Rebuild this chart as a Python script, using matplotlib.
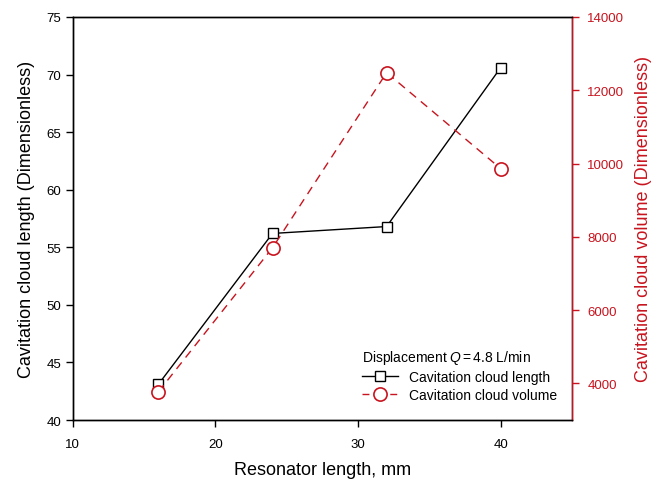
import matplotlib
matplotlib.use("Agg")
import matplotlib.pyplot as plt
from matplotlib.lines import Line2D

# ── data ──────────────────────────────────────────────────────────────────────
resonator_len = [16, 24, 32, 40]          # mm
cloud_length  = [43.1, 56.2, 56.8, 70.6]  # dimensionless
cloud_volume  = [3770, 7700, 12480, 9860] # dimensionless

RED = "#C8141E"

plt.rcParams.update({
    "font.family": ["Liberation Sans", "DejaVu Sans"],
    "mathtext.fontset": "custom",
    "mathtext.it": "Liberation Sans:italic",
    "mathtext.rm": "Liberation Sans",
})

fig = plt.figure(figsize=(6.56, 4.81), dpi=100)
ax = fig.add_axes([0.111, 0.1247, 0.761, 0.838])
ax2 = ax.twinx()

ax.plot(resonator_len, cloud_length, "-", color="black", linewidth=1.0,
        marker="s", markersize=7.5, markerfacecolor="white",
        markeredgecolor="black", markeredgewidth=1.0, zorder=3)
ax2.plot(resonator_len, cloud_volume, "--", color=RED, linewidth=1.0,
         dashes=(6, 4.5), marker="o", markersize=9.5, markerfacecolor="white",
         markeredgecolor=RED, markeredgewidth=1.2, zorder=3)

# ── axes ──────────────────────────────────────────────────────────────────────
ax.set_xlim(10, 45)
ax.set_xticks([10, 20, 30, 40])
ax.set_ylim(40, 75)
ax.set_yticks(range(40, 76, 5))
ax2.set_ylim(3000, 14000)
ax2.set_yticks(range(4000, 14001, 2000))

ax.set_xlabel("Resonator length, mm", fontsize=13, labelpad=8)
ax.set_ylabel("Cavitation cloud length (Dimensionless)", fontsize=13, labelpad=8)
ax2.set_ylabel("Cavitation cloud volume (Dimensionless)", fontsize=13,
               color=RED, labelpad=8)

ax.tick_params(axis="both", direction="out", length=5, width=1.0,
               labelsize=9.5, top=False)
ax.tick_params(axis="x", pad=8)
ax2.tick_params(axis="y", direction="out", length=5, width=1.0,
                labelsize=9.5, colors=RED, pad=6)
for a in (ax, ax2):
    for s in a.spines.values():
        s.set_linewidth(1.0)
ax2.spines["right"].set_color(RED)

# ── legend ────────────────────────────────────────────────────────────────────
h_len = Line2D([0], [0], color="black", linewidth=1.0, marker="s",
               markersize=7.5, markerfacecolor="white", markeredgecolor="black")
h_vol = Line2D([0], [0], color=RED, linewidth=1.0, linestyle="--",
               dashes=(5, 5), marker="o", markersize=9.5,
               markerfacecolor="white", markeredgecolor=RED,
               markeredgewidth=1.2)
leg = ax.legend([h_len, h_vol],
                ["Cavitation cloud length", "Cavitation cloud volume"],
                title=r"Displacement $Q\,$=$\,$4.8 L/min",
                title_fontsize=10, fontsize=10, frameon=False,
                loc="lower left", bbox_to_anchor=(0.56, 0.02),
                handlelength=2.6, labelspacing=0.3, borderpad=0.2)
leg._legend_box.align = "left"

fig.savefig("out.png", dpi=100)
